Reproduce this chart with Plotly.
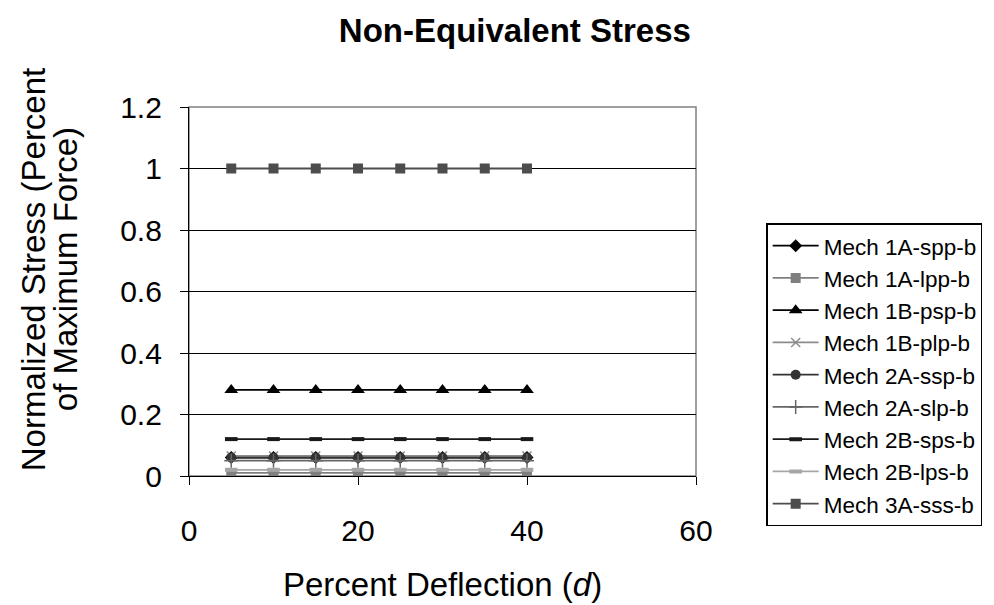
import plotly.graph_objects as go

deflection = [5, 10, 15, 20, 25, 30, 35, 40]

series_names = [
    "Mech 1A-spp-b", "Mech 1A-lpp-b", "Mech 1B-psp-b", "Mech 1B-plp-b",
    "Mech 2A-ssp-b", "Mech 2A-slp-b", "Mech 2B-sps-b", "Mech 2B-lps-b",
    "Mech 3A-sss-b",
]
mech_1a_spp = [0.06] * 8
mech_1a_lpp = [0.01] * 8
mech_1b_psp = [0.28] * 8
mech_1b_plp = [0.065] * 8
mech_2a_ssp = [0.06] * 8
mech_2a_slp = [0.05] * 8
mech_2b_sps = [0.12] * 8
mech_2b_lps = [0.02] * 8
mech_3a_sss = [1.0] * 8

values = [mech_1a_spp, mech_1a_lpp, mech_1b_psp, mech_1b_plp,
          mech_2a_ssp, mech_2a_slp, mech_2b_sps, mech_2b_lps, mech_3a_sss]

styles = [
    dict(color="#000000", symbol="diamond", size=10, mlw=0),
    dict(color="#7f7f7f", symbol="square", size=10, mlw=0),
    dict(color="#000000", symbol="triangle-up", size=12, mlw=0),
    dict(color="#8c8c8c", symbol="x-thin", size=9, mlw=1.5),
    dict(color="#333333", symbol="circle", size=10, mlw=0),
    dict(color="#666666", symbol="cross-thin", size=10, mlw=1.5),
    dict(color="#1a1a1a", symbol="line-ew", size=9, mlw=4),
    dict(color="#a6a6a6", symbol="line-ew", size=9, mlw=4),
    dict(color="#4d4d4d", symbol="square", size=10, mlw=0),
]

fig = go.Figure()
for i, (name, vals, st) in enumerate(zip(series_names, values, styles)):
    fig.add_trace(go.Scatter(
        x=deflection, y=vals, name=name, mode="lines+markers",
        line=dict(color=st["color"], width=1.8),
        marker=dict(symbol=st["symbol"], size=st["size"], color=st["color"],
                    line=dict(color=st["color"], width=st["mlw"])),
    ))

font_family = "Liberation Sans, Arial, sans-serif"

fig.add_shape(type="rect", xref="paper", yref="paper", x0=0, x1=1, y0=0, y1=1,
              line=dict(color="#808080", width=1.5), layer="below")

# y-axis title as two centred lines
y_title_lines = ["Normalized Stress (Percent", "of Maximum Force)"]
for line_text, xp in zip(y_title_lines, [-0.306, -0.243]):
    fig.add_annotation(text=line_text, xref="paper", yref="paper",
                       x=xp, y=0.56, xanchor="center", yanchor="middle",
                       textangle=-90, showarrow=False, font=dict(size=33))

fig.add_annotation(text="Percent Deflection (<i>d</i>)", xref="paper", yref="paper",
                   x=0.5, y=-0.295, xanchor="center", yanchor="middle",
                   showarrow=False, font=dict(size=33))

fig.update_layout(
    width=994, height=605,
    paper_bgcolor="white", plot_bgcolor="white",
    margin=dict(l=189, r=295, t=107, b=129),
    font=dict(family=font_family, size=30, color="#000000"),
    title=dict(text="<b>Non-Equivalent Stress</b>", x=0.518, xanchor="center",
               y=0.95, yanchor="middle", font=dict(size=33)),
    xaxis=dict(range=[0, 60], dtick=20, tick0=0, showgrid=False, zeroline=False,
               showline=True, linecolor="#000000", linewidth=1.2,
               ticks="outside", ticklen=8, tickcolor="#000000",
               ticklabelstandoff=20, tickfont=dict(size=30)),
    yaxis=dict(range=[0, 1.2], dtick=0.2, tick0=0, showgrid=True,
               gridcolor="#000000", gridwidth=1, zeroline=False,
               showline=True, linecolor="#000000", linewidth=1.2,
               ticks="outside", ticklen=8, tickcolor="#000000",
               ticklabelstandoff=12, tickfont=dict(size=30)),
    legend=dict(x=1.139, xanchor="left", y=0.274, yanchor="middle",
                bordercolor="#000000", borderwidth=1.2, bgcolor="white",
                font=dict(size=22.5), tracegroupgap=0, itemwidth=46),
    showlegend=True,
)

fig.write_html("out.html")
